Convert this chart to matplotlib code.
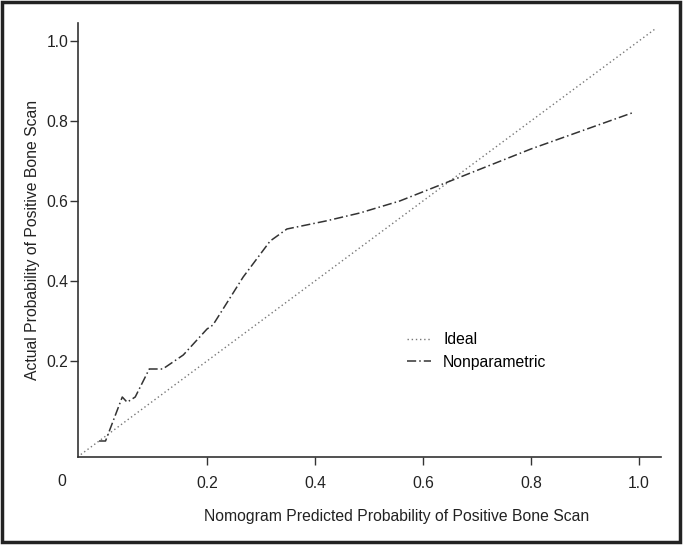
import matplotlib.pyplot as plt
from matplotlib.patches import Rectangle

plt.rcParams['font.family'] = ['Liberation Sans', 'DejaVu Sans']

ideal_x = [-0.04, 1.03]
ideal_y = [-0.04, 1.03]

nonpar_x = [0.0, 0.012, 0.043, 0.052, 0.067, 0.093, 0.118, 0.156, 0.20, 0.211,
            0.267, 0.317, 0.348, 0.42, 0.483, 0.557, 0.646, 0.80, 0.987]
nonpar_y = [0.0, 0.0, 0.11, 0.097, 0.11, 0.18, 0.18, 0.215, 0.28, 0.29,
            0.41, 0.50, 0.53, 0.55, 0.57, 0.60, 0.6475, 0.73, 0.82]

ticks = [0.2, 0.4, 0.6, 0.8, 1.0]
tick_labels = ["0.2", "0.4", "0.6", "0.8", "1.0"]

fs = 11.3
fig = plt.figure(figsize=(6.83, 5.45), dpi=100)
ax = fig.add_axes([78/683, 1-457/545, (661-78)/683, (457-23)/545])

ax.plot(ideal_x, ideal_y, linestyle=(0, (1, 2)), color="#777777", lw=1.0, label="Ideal")
ax.plot(nonpar_x, nonpar_y, linestyle=(0, (6, 2, 1, 2)), color="#333333", lw=1.1,
        label="Nonparametric")

ax.set_xlim(-0.039, 1.041)
ax.set_ylim(-0.04, 1.045)
ax.set_xticks(ticks)
ax.set_xticklabels(tick_labels)
ax.set_yticks(ticks)
ax.set_yticklabels(tick_labels)

for s in ["top", "right"]:
    ax.spines[s].set_visible(False)
for s in ["left", "bottom"]:
    ax.spines[s].set_color("#333333")
    ax.spines[s].set_linewidth(1.2)

ax.tick_params(axis="both", direction="out", length=6, width=1, color="#333333",
               labelsize=fs, labelcolor="#222222")
ax.tick_params(axis="x", pad=8)
ax.tick_params(axis="y", pad=1)

# axis titles placed in figure pixels to match the original layout
fig.text(397/683, 1-517/545, "Nomogram Predicted Probability of Positive Bone Scan",
         fontsize=fs, color="#222222", ha="center", va="center")
fig.text(33/683, 1-240/545, "Actual Probability of Positive Bone Scan",
         fontsize=fs, color="#222222", ha="center", va="center", rotation=90)

fig.text(62/683, 1-482/545, "0", fontsize=fs, color="#222222", ha="center", va="center")

leg = ax.legend(loc="center left", bbox_to_anchor=(407/683, 1-351/545),
                bbox_transform=fig.transFigure, frameon=False, fontsize=fs,
                handlelength=1.5, handletextpad=0.8, labelspacing=0.45,
                borderpad=0, borderaxespad=0)

fig.add_artist(Rectangle((0.003, 0.006), 0.992, 0.99, transform=fig.transFigure,
                         fill=False, edgecolor="#222222", lw=2.5))

fig.savefig("out.png", dpi=100)
